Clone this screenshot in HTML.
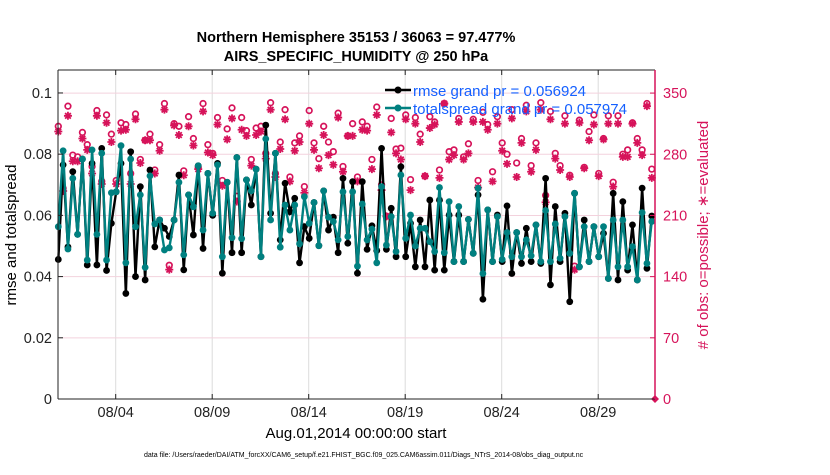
<!DOCTYPE html>
<html><head><meta charset="utf-8"><style>
body{margin:0;background:#fff;}
svg text{font-family:"Liberation Sans",sans-serif;}
</style></head><body>
<svg id="chart" width="830" height="470" xmlns="http://www.w3.org/2000/svg">
<rect width="830" height="470" fill="#fff"/>
<g id="grid"></g>
<g id="pink"></g>
<g id="lines"></g>
<g id="axes"></g>
<text x="356" y="42" font-size="14.5" font-weight="bold" text-anchor="middle">Northern Hemisphere 35153 / 36063 = 97.477%</text>
<text x="356" y="61" font-size="14.5" font-weight="bold" text-anchor="middle">AIRS_SPECIFIC_HUMIDITY @ 250 hPa</text>
<text transform="translate(16,235) rotate(-90)" font-size="15" text-anchor="middle">rmse and totalspread</text>
<text transform="translate(708,235) rotate(-90)" font-size="15" fill="#d6135a" text-anchor="middle"># of obs: o=possible; ∗=evaluated</text>
<text x="356" y="438" font-size="15" text-anchor="middle">Aug.01,2014 00:00:00 start</text>
<text x="144" y="457" font-size="7">data file: /Users/raeder/DAI/ATM_forcXX/CAM6_setup/f.e21.FHIST_BGC.f09_025.CAM6assim.011/Diags_NTrS_2014-08/obs_diag_output.nc</text>
<g>
<line x1="385" y1="90" x2="411" y2="90" stroke="#000" stroke-width="2.5"/><circle cx="398" cy="90" r="3.5" fill="#000"/>
<text x="413" y="96" font-size="15" fill="#1560ff">rmse grand pr = 0.056924</text>
<line x1="385" y1="108" x2="411" y2="108" stroke="#008080" stroke-width="2.5"/><circle cx="398" cy="108" r="3.5" fill="#008080"/>
<text x="413" y="114" font-size="15" fill="#1560ff">totalspread grand pr = 0.057974</text>
</g>
</svg>
<script>
const rmse=[0.0456,0.0765,0.0497,0.0743,0.0538,0.0784,0.0438,0.0770,0.0438,0.0819,0.0420,0.0574,0.0677,0.0770,0.0345,0.0808,0.0400,0.0694,0.0389,0.0748,0.0497,0.0585,0.0558,0.0531,0.0585,0.0732,0.0422,0.0667,0.0536,0.0762,0.0492,0.0737,0.0600,0.0770,0.0411,0.0708,0.0478,0.0789,0.0478,0.0716,0.0634,0.0751,0.0465,
0.0895,0.0607,0.0803,0.0520,0.0705,0.0612,0.0656,0.0445,0.0563,0.0525,0.0642,0.0501,0.0680,0.0552,0.0594,0.0478,0.0721,0.0509,0.0710,0.0411,0.0710,0.0489,0.0566,0.0485,0.0819,0.0489,0.0623,0.0465,0.0759,0.0465,0.0574,0.0432,0.0585,0.0432,0.0650,0.0421,0.0650,0.0421,0.0601,0.0449,0.0601,
0.0449,0.0587,0.0476,0.0667,0.0326,0.0618,0.0449,0.0601,0.0449,0.0631,0.0410,0.0544,0.0443,0.0558,0.0449,0.0569,0.0443,0.0721,0.0373,0.0629,0.0449,0.0607,0.0318,0.0672,0.0432,0.0585,0.0449,0.0563,0.0465,0.0541,0.0394,0.0672,0.0389,0.0645,0.0421,0.0569,0.0389,0.0689,0.0427,0.0598];
const spread=[0.0563,0.0811,0.0490,0.0721,0.0538,0.0784,0.0454,0.0814,0.0538,0.0803,0.0454,0.0674,0.0677,0.0828,0.0445,0.0784,0.0563,0.0667,0.0430,0.0729,0.0572,0.0585,0.0487,0.0494,0.0585,0.0708,0.0471,0.0667,0.0628,0.0762,0.0552,0.0737,0.0607,0.0765,0.0465,0.0708,0.0527,0.0789,0.0524,0.0716,0.0680,0.0751,0.0465,
0.0850,0.0585,0.0803,0.0496,0.0634,0.0552,0.0634,0.0507,0.0661,0.0574,0.0642,0.0501,0.0680,0.0594,0.0580,0.0520,0.0677,0.0531,0.0677,0.0434,0.0637,0.0520,0.0555,0.0445,0.0694,0.0503,0.0596,0.0482,0.0732,0.0525,0.0601,0.0500,0.0558,0.0558,0.0514,0.0482,0.0691,0.0478,0.0645,0.0449,0.0629,
0.0449,0.0587,0.0476,0.0689,0.0410,0.0618,0.0449,0.0596,0.0456,0.0544,0.0465,0.0544,0.0465,0.0520,0.0468,0.0569,0.0449,0.0616,0.0449,0.0572,0.0460,0.0596,0.0476,0.0672,0.0432,0.0563,0.0449,0.0563,0.0465,0.0563,0.0394,0.0585,0.0432,0.0585,0.0432,0.0498,0.0389,0.0609,0.0443,0.0580];
const possible=[312,241,335,279,277,305,291,266,330,249,325,303,250,316,314,258,326,274,296,303,262,291,338,153,315,312,261,323,298,265,338,291,281,322,250,309,333,232,322,307,274,310,312,
281,339,258,294,331,254,293,301,243,330,293,275,312,294,283,327,266,301,315,254,317,312,274,334,245,209,321,286,287,325,251,322,303,255,323,317,262,338,283,285,321,
277,292,320,250,328,314,260,323,293,280,331,270,298,336,267,293,339,233,329,281,267,324,256,152,319,265,306,325,258,298,324,248,324,280,285,316,298,285,338,263];
const used=[306,238,324,272,272,298,285,258,324,246,316,294,246,307,308,246,320,270,296,296,258,284,331,148,313,302,256,312,290,263,329,282,279,314,244,297,321,226,308,301,267,302,306,
275,331,254,286,320,249,284,294,236,315,285,264,302,279,268,322,260,301,301,249,308,307,263,325,239,209,305,281,274,320,239,315,294,255,310,314,253,338,274,279,317,
274,281,317,242,317,308,249,315,284,269,321,254,293,329,260,285,331,225,320,275,262,315,254,148,316,264,296,314,255,297,315,243,315,277,277,315,293,279,335,253];
const xTickDays=[4,9,14,19,24,29];
const xTickLabels=["08/04","08/09","08/14","08/19","08/24","08/29"];
const yTicks=[0,0.02,0.04,0.06,0.08,0.1];
const yTickLabels=["0","0.02","0.04","0.06","0.08","0.1"];
const y2Ticks=[0,70,140,210,280,350];

const L=58,R=655,T=70,B=399;
const NS="http://www.w3.org/2000/svg";
function xDay(d){return 115.7+(d-4)*19.3;}
function xIdx(i){return xDay(1+i*0.25)+0.5;}
function yL(v){return B-(B-T)*v/0.1075;}
function yR(n){return B-(B-T)*n/376.4;}
function mk(tag,attrs,parent){const e=document.createElementNS(NS,tag);for(const k in attrs)e.setAttribute(k,attrs[k]);parent.appendChild(e);return e;}
const grid=document.getElementById('grid'),pink=document.getElementById('pink'),lines=document.getElementById('lines'),axes=document.getElementById('axes');
xTickDays.forEach((d,k)=>{
  const x=xDay(d);
  const g=mk('line',{x1:x,x2:x,y1:T,y2:B,stroke:'#dcdcdc','stroke-width':1},grid);
  
  
  mk('line',{x1:x,x2:x,y1:B,y2:B-5,stroke:'#222'},axes);
  mk('line',{x1:x,x2:x,y1:T,y2:T+5,stroke:'#222'},axes);
  const t=mk('text',{x:x,y:B+18,'font-size':14.5,'text-anchor':'middle',fill:'#222'},axes);
  t.textContent=xTickLabels[k];
  
  
});
y2Ticks.forEach(n=>{
  const y=yR(n);
  if(n>0){const g=mk('line',{x1:L,x2:R,y1:y,y2:y,stroke:'#f3d2dd','stroke-width':1},grid);
  
  }
  mk('line',{x1:R,x2:R-5,y1:y,y2:y,stroke:'#d6135a'},axes);
  const t=mk('text',{x:R+8,y:y+5,'font-size':14.5,fill:'#d6135a'},axes);
  t.textContent=String(n);
  
  
});
yTicks.forEach((v,k)=>{
  const y=yL(v);
  mk('line',{x1:L,x2:L+5,y1:y,y2:y,stroke:'#222'},axes);
  const t=mk('text',{x:L-6,y:y+5,'font-size':14.5,'text-anchor':'end',fill:'#222'},axes);
  t.textContent=yTickLabels[k];
  
  
});
mk('line',{x1:L,x2:R,y1:T,y2:T,stroke:'#222'},axes);
mk('line',{x1:L,x2:R,y1:B,y2:B,stroke:'#222'},axes);
mk('line',{x1:L,x2:L,y1:T,y2:B,stroke:'#222'},axes);
mk('line',{x1:R,x2:R,y1:T,y2:B,stroke:'#d6135a','stroke-width':1.5},axes);
possible.forEach((n,i)=>{
  const c=mk('circle',{cx:xIdx(i),cy:yR(n),r:2.8,fill:'none',stroke:'#d6135a','stroke-width':1.7},pink);
  
  
});
used.forEach((n,i)=>{
  const x=xIdx(i),y=yR(n),r=4;
  let d='';
  for(let a=0;a<4;a++){const t=a*Math.PI/4;d+=`M${x-r*Math.cos(t)},${y-r*Math.sin(t)}L${x+r*Math.cos(t)},${y+r*Math.sin(t)}`;}
  const p=mk('path',{d:d,stroke:'#d6135a','stroke-width':1.8,fill:'none'},pink);
  
  
});
const dm=mk('path',{d:`M${R-4},${B}L${R},${B-4}L${R+4},${B}L${R},${B+4}Z`,fill:'#d6135a'},pink);


function series(arr,color,name){
  const p=mk('polyline',{points:arr.map((v,i)=>xIdx(i)+','+yL(v)).join(' '),fill:'none',stroke:color,'stroke-width':2.4},lines);
  
  
  arr.forEach((v,i)=>{
    const c=mk('circle',{cx:xIdx(i),cy:yL(v),r:3.4,fill:color},lines);
    
    
  });
}
series(rmse,'#000','rmse');
series(spread,'#008080','totalspread');
</script>
</body></html>
